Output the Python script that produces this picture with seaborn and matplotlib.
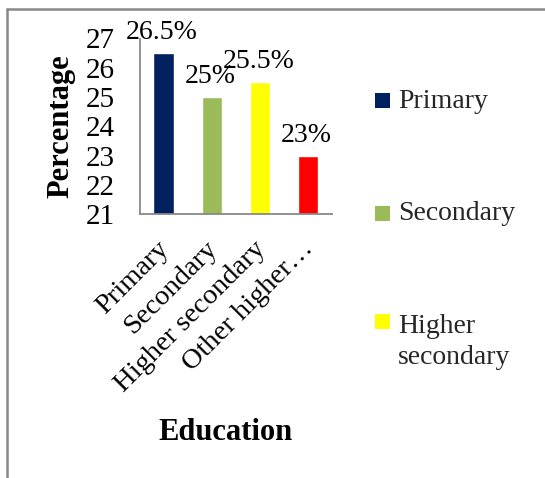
import matplotlib
matplotlib.use("Agg")
import matplotlib.pyplot as plt
import seaborn as sns
import pandas as pd
from matplotlib.patches import Rectangle
from matplotlib.lines import Line2D
from matplotlib.legend_handler import HandlerPatch
from matplotlib.transforms import ScaledTranslation

# Survey results by education level
categories = ["Primary", "Secondary", "Higher secondary", "Other higher education"]
tick_labels = ["Primary", "Secondary", "Higher secondary", "Other higher\u2026"]
percentages = [26.5, 25.0, 25.5, 23.0]
value_labels = ["26.5%", "25%", "25.5%", "23%"]
legend_labels = ["Primary", "Secondary", "Higher\nsecondary"]
colors = ["#002060", "#9BBB59", "#FFFF00", "#FF0000"]
y_ticks = [21, 22, 23, 24, 25, 26, 27]

sns.set_theme(style="white")
plt.rcParams["font.family"] = ["Liberation Serif", "DejaVu Serif"]

W, H = 545, 478
GRAY = "#898989"
fig = plt.figure(figsize=(W / 100, H / 100), dpi=100)


def px_box(left, top, right, bottom):
    return [left / W, 1 - bottom / H, (right - left) / W, (bottom - top) / H]


ax = fig.add_axes(px_box(139.5, 38.5, 332, 214))

df = pd.DataFrame({"Education": categories, "Percentage": percentages})
sns.barplot(data=df, x="Education", y="Percentage", hue="Education",
            palette=colors, width=0.42, dodge=False, legend=False,
            saturation=1, ax=ax)

ax.set_ylim(y_ticks[0], y_ticks[-1])
ax.set_xlim(-0.5, len(categories) - 0.5)
ax.set_yticks(y_ticks)
ax.set_xticks(range(len(categories)))
ax.set_xticklabels(tick_labels, rotation=45, ha="right", va="top",
                   rotation_mode="anchor")
ax.set_xticks([i - 0.5 for i in range(len(categories) + 1)], minor=True)

for side in ("top", "right"):
    ax.spines[side].set_visible(False)
for side in ("left", "bottom"):
    ax.spines[side].set_color(GRAY)
    ax.spines[side].set_linewidth(1.3)

ax.tick_params(axis="y", which="major", direction="out", length=5.5,
               width=1.3, color=GRAY, labelsize=21, pad=12, labelcolor="black")
ax.tick_params(axis="x", which="major", length=0, labelsize=20.5, pad=16,
               labelcolor="black")
ax.tick_params(axis="x", which="minor", direction="out", length=4,
               width=1.3, color=GRAY)

shift = ScaledTranslation(-7 / 100, 0, fig.dpi_scale_trans)
for lab in ax.get_xticklabels():
    lab.set_transform(lab.get_transform() + shift)

for i, (v, s) in enumerate(zip(percentages, value_labels)):
    ax.annotate(s, (i, v), xytext=(-1, 10), textcoords="offset points",
                ha="center", va="baseline", fontsize=20, color="black",
                annotation_clip=False)

ax.set_ylabel("Percentage", fontsize=22, fontweight="bold", color="black")
ax.yaxis.set_label_coords(-0.335, 0.5)
ax.set_xlabel("Education", fontsize=22, fontweight="bold", color="black")
ax.xaxis.set_label_coords(0.449, -1.16)


class SquareHandler(HandlerPatch):
    """Square key sitting on the baseline, optionally lifted by some lines."""

    def __init__(self, lift=0.0):
        super().__init__()
        self.lift = lift

    def create_artists(self, legend, orig_handle, xdescent, ydescent,
                       width, height, fontsize, trans):
        side = width
        p = Rectangle((-xdescent, self.lift * fontsize), side, side,
                      facecolor=orig_handle.get_facecolor(),
                      edgecolor="none", transform=trans)
        return [p]


handles = [Rectangle((0, 0), 1, 1, facecolor=c, edgecolor="none")
           for c in colors[:3]]
lifts = [0.0, 0.0, 0.82]
leg = ax.legend(handles, legend_labels,
                handler_map={h: SquareHandler(l) for h, l in zip(handles, lifts)},
                loc="upper left", bbox_to_anchor=(375 / W, 1 - 89 / H),
                bbox_transform=fig.transFigure, frameon=False, fontsize=20,
                handlelength=0.54, handleheight=0.54, handletextpad=0.3,
                labelspacing=3.15, borderpad=0, borderaxespad=0)
leg.get_texts()[2].set_linespacing(1.3)

# outer chart frame (left and top edges)
fig.add_artist(Line2D([7 / W, 7 / W], [0, 1 - 9 / H], color=GRAY, lw=1.8,
                      transform=fig.transFigure))
fig.add_artist(Line2D([7 / W, 1], [1 - 9 / H, 1 - 9 / H], color=GRAY, lw=1.8,
                      transform=fig.transFigure))

fig.savefig("out.png", dpi=100)
